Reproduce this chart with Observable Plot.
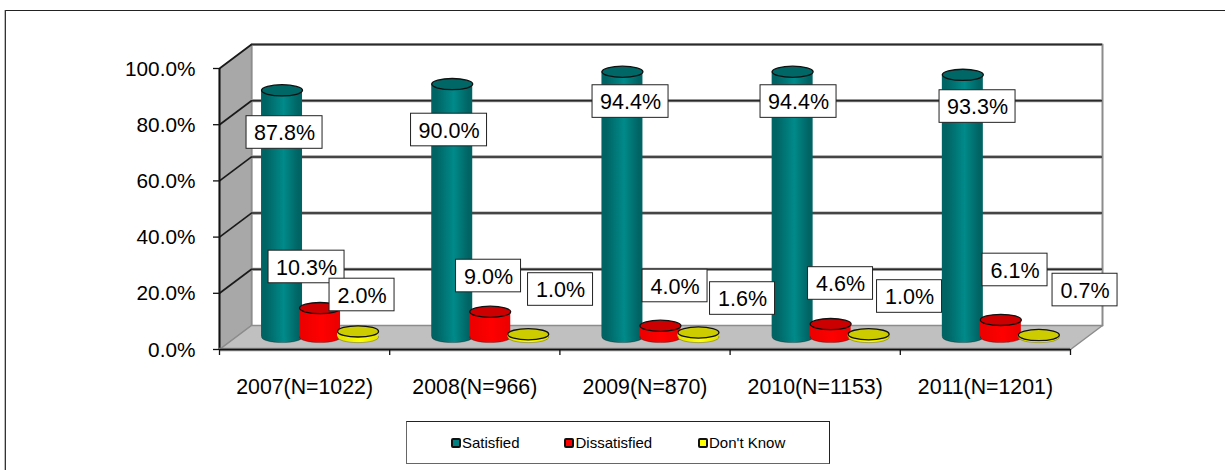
<!DOCTYPE html>
<html>
<head>
<meta charset="utf-8">
<script src="https://cdn.jsdelivr.net/npm/d3@7"></script>
<script src="https://cdn.jsdelivr.net/npm/@observablehq/plot@0.6"></script>
<style>
  html,body{margin:0;padding:0;background:#fff;overflow:hidden}
  #page{position:relative;width:1225px;height:470px;font-family:"Liberation Sans",Arial,sans-serif;color:#000}
  #page svg{display:block;position:absolute;left:0;top:0}
  #frameTop{position:absolute;left:5px;right:0;top:9.5px;height:1.5px;background:#222}
  #frameLeft{position:absolute;left:4.5px;top:10px;bottom:0;width:1.5px;background:#333;box-shadow:-1px 0 0 #bbb}
  #legend{position:absolute;left:406px;top:421px;width:422px;height:41px;border:1px solid #222;border-bottom:1.5px solid #666;border-left:1.5px solid #666;background:#fff;font-size:15px}
  #legend .item{position:absolute;top:0;height:41px;display:flex;align-items:center;white-space:nowrap}
  #legend i{display:inline-block;box-sizing:border-box;width:10px;height:10px;border:2.5px solid #111;border-radius:2px;margin-right:1.5px}
</style>
</head>
<body>
<div id="page">
  <div id="frameTop"></div>
  <div id="frameLeft"></div>
  <div id="chart"></div>
  <div id="legend"></div>
</div>
<script>
// ---- data ----
const categories = ["2007(N=1022)", "2008(N=966)", "2009(N=870)", "2010(N=1153)", "2011(N=1201)"];
const seriesNames = ["Satisfied", "Dissatisfied", "Don't Know"];
const satisfied = [87.8, 90.0, 94.4, 94.4, 93.3];
const dissatisfied = [10.3, 9.0, 4.0, 4.6, 6.1];
const dontKnow = [2.0, 1.0, 1.6, 1.0, 0.7];
const yTicks = [0, 20, 40, 60, 80, 100];

// ---- layout (pixels) ----
const ML = 219, MR = 155, MT = 68, MB = 121, W = 1225, H = 470;
const ux = (W - ML - MR) / categories.length;   // px per category
const uy = (H - MT - MB) / 100;                 // px per percent
const depthX = 32 / ux, depthY = 24 / uy;       // 3-D depth in data units
const barDepth = 0.52;
const seriesStep = 38 / ux, halfBar = 20.5, barShift = -1.2 / ux;
// label-box centre offsets from the top of each cylinder (px), hand-placed as in the reference
const labelDx = [[2.5,-3.2,8.1,5.9,14.7],[-13.5,-1.7,14.6,9.9,14.2],[4,32.3,44.1,40.9,46.2]];
const labelDy = [[42.2,45.9,29.8,29.8,31.7],[-41.1,-35.7,-39.8,-40.6,-49.9],[-36.4,-44.7,-34,-37.7,-45]];

const series = [
  {name: seriesNames[0], values: satisfied, side: "url(#gTeal)", top: "#006666", swatch: "#008080"},
  {name: seriesNames[1], values: dissatisfied, side: "url(#gRed)", top: "#cc0000", swatch: "#ff0000"},
  {name: seriesNames[2], values: dontKnow, side: "url(#gYellow)", top: "#cccc00", swatch: "#ffff00"}
];

const baseY = barDepth * depthY;
const rows = series.flatMap((s, si) => s.values.map((v, i) => {
  const cx = i + 0.5 + barDepth * depthX + barShift + (si - 1) * seriesStep;
  const top = v + baseY;
  return {si, i, v, cx, top,
    lx: cx + labelDx[si][i] / ux,
    ly: top - labelDy[si][i] / uy,
    bw: (v >= 10 ? 38 : 32.5) / ux,
    bh: 16.3 / uy};
}));

const ellipse = {
  draw(ctx, size) {
    const r = Math.sqrt(size / Math.PI), ry = 5.6, k = 0.5523;
    ctx.moveTo(-r, 0);
    ctx.bezierCurveTo(-r, -ry * k, -r * k, -ry, 0, -ry);
    ctx.bezierCurveTo(r * k, -ry, r, -ry * k, r, 0);
    ctx.bezierCurveTo(r, ry * k, r * k, ry, 0, ry);
    ctx.bezierCurveTo(-r * k, ry, -r, ry * k, -r, 0);
    ctx.closePath();
  }
};

const gradient = (id, a, b) => `<linearGradient id="${id}" x1="0" x2="1" y1="0" y2="0">
  <stop offset="0" stop-color="${a}"/><stop offset="0.12" stop-color="${a}"/>
  <stop offset="0.55" stop-color="${b}"/><stop offset="0.9" stop-color="${a}"/><stop offset="1" stop-color="${a}"/></linearGradient>`;
const defs = () => d3.create("svg:defs").html(
  gradient("gTeal", "#006464", "#008a8a") + gradient("gRed", "#ee0000", "#ff0000") + gradient("gYellow", "#e6e600", "#ffff00")
).node();

// 3-D shell polygons, in data units
const P = (x, y, d) => ({x: x + d * depthX, y: y + d * depthY});
const n = categories.length;
const leftWall = [P(0,0,0), P(0,0,1), P(0,100,1), P(0,100,0), P(0,0,0)];
const floor = [P(0,0,0), P(0,0,1), P(n,0,1), P(n,0,0), P(0,0,0)];
const backWall = [P(0,0,1), P(0,100,1), P(n,100,1), P(n,0,1)];
const poly = (pts, o) => Plot.line(pts, {x: "x", y: "y", ...o});

const seriesMarks = s => {
  const d = rows.filter(r => r.si === s);
  const o = {x: "cx", r: halfBar, symbol: ellipse};
  return [
    Plot.dot(d, {...o, y: baseY, fill: series[s].side, stroke: "#0005", strokeWidth: 0.8}),
    Plot.rect(d, {x1: r => r.cx - halfBar / ux, x2: r => r.cx + halfBar / ux, y1: baseY, y2: "top", fill: series[s].side}),
    Plot.dot(d, {...o, y: "top", fill: series[s].top, stroke: "#111", strokeWidth: 1.3})
  ];
};

const chart = Plot.plot({
  width: W, height: H,
  marginLeft: ML, marginRight: MR, marginTop: MT, marginBottom: MB,
  style: {fontFamily: '"Liberation Sans", Arial, sans-serif', background: "transparent", overflow: "visible"},
  x: {domain: [0, n], axis: null},
  y: {domain: [0, 100], axis: null},
  marks: [
    defs,
    poly(backWall, {fill: "#fff", stroke: "#8c8c8c", strokeWidth: 2}),
    poly(leftWall, {fill: "#a8a8a8", stroke: "#8c8c8c", strokeWidth: 1.5}),
    poly(floor, {fill: "#c0c0c0", stroke: "#8c8c8c", strokeWidth: 1.5}),
    // back-wall gridlines with their soft shadow, and the slanted ones across the left wall
    Plot.ruleY(yTicks.slice(1), {x1: depthX, x2: n + depthX, y: d => d + depthY, stroke: "#999", strokeWidth: 3.2}),
    Plot.ruleY(yTicks.slice(1), {x1: depthX, x2: n + depthX, y: d => d + depthY, stroke: "#2a2a2a", strokeWidth: 1.5}),
    Plot.link(yTicks.slice(1), {x1: 0, y1: d => d, x2: depthX, y2: d => d + depthY, stroke: "#1a1a1a", strokeWidth: 1.7}),
    // axes
    Plot.ruleX([0], {y1: 0, y2: 100, stroke: "#111", strokeWidth: 2}),
    Plot.ruleY([0], {x1: 0, x2: n, stroke: "#888", strokeWidth: 3.5}),
    Plot.ruleY([0], {x1: 0, x2: n, stroke: "#111", strokeWidth: 1.6}),
    Plot.ruleY(yTicks, {x1: -6 / ux, x2: 0, stroke: "#111", strokeWidth: 1.3}),
    Plot.ruleX(d3.range(n + 1), {y1: -6 / uy, y2: 0, stroke: "#111", strokeWidth: 1.3}),
    Plot.axisY({ticks: yTicks, tickSize: 0, tickPadding: 24, dy: 0.5, label: null, fontSize: 20.8, fill: "#000", tickFormat: d => d.toFixed(1) + "%"}),
    Plot.axisX({ticks: d3.range(n).map(i => i + 0.5), tickSize: 0, tickPadding: 29, label: null, fontSize: 21.3, fill: "#000", tickFormat: d => categories[d - 0.5]}),
    // cylinders
    ...seriesMarks(0), ...seriesMarks(1), ...seriesMarks(2),
    // value labels
    Plot.rect(rows, {x1: r => r.lx - r.bw, x2: r => r.lx + r.bw, y1: r => r.ly - r.bh, y2: r => r.ly + r.bh, fill: "#fff", stroke: "#222", strokeWidth: 1}),
    Plot.text(rows, {x: "lx", y: "ly", text: r => r.v.toFixed(1) + "%", fontSize: 21.5, fill: "#000", dy: 1})
  ]
});
document.getElementById("chart").append(chart);

// legend
const legendX = [43.5, 157, 290.5];
const legend = document.getElementById("legend");
series.forEach((s, k) => {
  const el = document.createElement("div");
  el.className = "item";
  el.style.left = legendX[k] + "px";
  const sw = document.createElement("i");
  sw.style.background = s.swatch;
  el.append(sw, document.createTextNode(s.name));
  legend.append(el);
});
</script>
</body>
</html>
